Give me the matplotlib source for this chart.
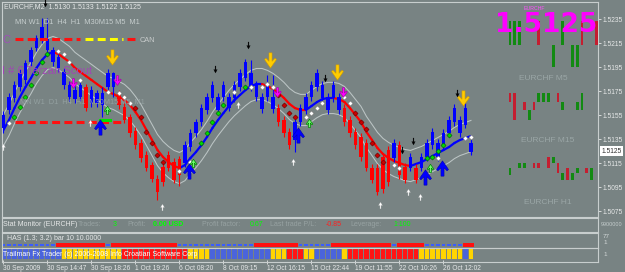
import matplotlib
matplotlib.use('Agg')
import matplotlib.pyplot as plt
from matplotlib.path import Path
from matplotlib.patches import Rectangle
import numpy as np

plt.rcParams['font.family'] = ['Liberation Sans', 'DejaVu Sans']

# ---------------- data ----------------
opens = [1.5144,1.5159,1.5169,1.5178,1.5184,1.5199,1.5211,1.5218,1.5209,1.5199,
         1.5194,1.5180,1.5170,1.5168,1.5170,1.5178,1.5165,1.5165,1.5163,1.5178,
         1.5178,1.5173,1.5162,1.5153,1.5142,1.5132,1.5122,1.5113,1.5102,1.5112,
         1.5122,1.5116,1.5118,1.5115,1.5128,1.5140,1.5149,1.5159,1.5169,1.5159,
         1.5170,1.5161,1.5169,1.5178,1.5186,1.5178,1.5170,1.5160,1.5170,1.5160,
         1.5161,1.5151,1.5141,1.5134,1.5149,1.5159,1.5170,1.5178,1.5169,1.5159,
         1.5169,1.5159,1.5161,1.5151,1.5141,1.5137,1.5132,1.5111,1.5111,1.5120,
         1.5126,1.5119,1.5130,1.5112,1.5111,1.5111,1.5111,1.5120,1.5130,1.5120,
         1.5130,1.5140,1.5149,1.5140,1.5147,1.5124]
closes = [1.5155,1.5170,1.5180,1.5190,1.5198,1.5209,1.5219,1.5228,1.5218,1.5209,
          1.5203,1.5191,1.5180,1.5176,1.5180,1.5161,1.5176,1.5173,1.5173,1.5190,
          1.5190,1.5163,1.5151,1.5140,1.5130,1.5119,1.5111,1.5102,1.5091,1.5099,
          1.5111,1.5101,1.5105,1.5130,1.5140,1.5149,1.5161,1.5170,1.5180,1.5170,
          1.5180,1.5170,1.5180,1.5190,1.5199,1.5190,1.5180,1.5170,1.5180,1.5170,
          1.5149,1.5140,1.5130,1.5149,1.5161,1.5170,1.5180,1.5190,1.5180,1.5170,
          1.5180,1.5170,1.5149,1.5140,1.5130,1.5120,1.5111,1.5101,1.5091,1.5093,
          1.5099,1.5132,1.5105,1.5101,1.5120,1.5101,1.5120,1.5132,1.5141,1.5132,
          1.5140,1.5151,1.5161,1.5151,1.5161,1.5132]
highs = [1.5158,1.5173,1.5183,1.5193,1.5201,1.5212,1.5222,1.5236,1.5236,1.5212,
         1.5206,1.5194,1.5183,1.5179,1.5183,1.5181,1.5179,1.5176,1.5178,1.5193,
         1.5191,1.5176,1.5165,1.5156,1.5145,1.5135,1.5125,1.5116,1.5105,1.5115,
         1.5125,1.5119,1.5121,1.5133,1.5143,1.5152,1.5164,1.5173,1.5183,1.5173,
         1.5183,1.5173,1.5183,1.5193,1.5202,1.5201,1.5183,1.5173,1.5188,1.5188,
         1.5164,1.5154,1.5144,1.5152,1.5164,1.5173,1.5183,1.5193,1.5183,1.5173,
         1.5183,1.5173,1.5164,1.5154,1.5144,1.5140,1.5135,1.5114,1.5114,1.5123,
         1.5129,1.5135,1.5133,1.5115,1.5123,1.5114,1.5123,1.5135,1.5144,1.5135,
         1.5143,1.5154,1.5164,1.5154,1.5168,1.5135]
lows = [1.5140,1.5156,1.5166,1.5175,1.5181,1.5196,1.5208,1.5215,1.5206,1.5196,
        1.5191,1.5177,1.5167,1.5165,1.5167,1.5158,1.5162,1.5162,1.5153,1.5175,
        1.5170,1.5160,1.5148,1.5137,1.5127,1.5116,1.5108,1.5099,1.5084,1.5096,
        1.5108,1.5098,1.5096,1.5112,1.5125,1.5137,1.5146,1.5156,1.5166,1.5156,
        1.5167,1.5158,1.5166,1.5175,1.5183,1.5175,1.5167,1.5157,1.5167,1.5157,
        1.5146,1.5137,1.5127,1.5124,1.5146,1.5156,1.5167,1.5175,1.5166,1.5156,
        1.5166,1.5156,1.5146,1.5137,1.5127,1.5117,1.5108,1.5098,1.5088,1.5090,
        1.5096,1.5116,1.5102,1.5098,1.5108,1.5098,1.5108,1.5117,1.5127,1.5117,
        1.5127,1.5137,1.5146,1.5137,1.5144,1.5122]
ma = [1.51425,1.51508,1.51608,1.51700,1.51783,1.51858,1.51942,1.52008,1.52058,1.52075,
      1.52058,1.52025,1.51992,1.51942,1.51908,1.51875,1.51842,1.51808,1.51775,1.51742,
      1.51725,1.51700,1.51675,1.51633,1.51575,1.51508,1.51425,1.51342,1.51258,1.51200,
      1.51158,1.51125,1.51108,1.51133,1.51192,1.51242,1.51300,1.51367,1.51442,1.51508,
      1.51567,1.51625,1.51675,1.51717,1.51758,1.51792,1.51808,1.51808,1.51792,1.51767,
      1.51733,1.51692,1.51642,1.51608,1.51592,1.51592,1.51625,1.51658,1.51683,1.51692,
      1.51692,1.51683,1.51658,1.51608,1.51550,1.51492,1.51408,1.51342,1.51275,1.51225,
      1.51192,1.51167,1.51150,1.51133,1.51125,1.51142,1.51158,1.51183,1.51208,1.51233,
      1.51258,1.51283,1.51317,1.51342,1.51358,1.51375]
band_width = 0.0013

price_ticks = [1.5235, 1.5215, 1.5195, 1.5175, 1.5155, 1.5135, 1.5115, 1.5095, 1.5075]
last_price = 1.5125

green_dot_idx = [2,3,4,5,6,7,8,36,37,38,39,40,44,77,78,79,80,81]
green_dot_val = [1.5153,1.5162,1.5170,1.5180,1.5190,1.5199,1.5206,1.5132,1.5140,1.5149,
                 1.5157,1.5163,1.5178,1.5119,1.5120,1.5125,1.5130,1.5138]
red_dot_idx = [24,25,26,27,28,29,50,51,52,53,64,65,66,67,68,69]
red_dot_val = [1.5161,1.5153,1.5141,1.5132,1.5122,1.5116,1.5172,1.5163,1.5157,1.5153,
               1.5157,1.5149,1.5143,1.5132,1.5122,1.5116]
white_dot_idx = [1,10,11,12,14,19,21,22,23,32,34,42,45,47,48,49,55,56,57,58,62,63,71,72,79,84,85]
white_dot_val = [1.5148,1.5208,1.5206,1.5199,1.5184,1.5174,1.5173,1.5170,1.5165,1.5108,
                 1.5116,1.5174,1.5178,1.5178,1.5181,1.5178,1.5153,1.5157,1.5161,1.5165,
                 1.5170,1.5165,1.5113,1.5111,1.5119,1.5136,1.5137]

yellow_arrow_idx = [19.7, 48.5, 60.6, 83.5]
yellow_arrow_val = [1.5203, 1.5201, 1.5191, 1.5169]
blue_arrow_idx = [17.6, 33.7, 53.6, 76.6, 79.7]
blue_arrow_val = [1.5145, 1.5108, 1.5138, 1.5103, 1.5111]
pink_arrow_idx = [12.6, 20.6, 49.7, 61.7]
pink_arrow_val = [1.5182, 1.5184, 1.5174, 1.5174]
black_arrow_idx = [7.5, 38.5, 44.5, 58.5, 72.5, 74.5, 82.5]
black_arrow_val = [1.5248, 1.5193, 1.5213, 1.5186, 1.5126, 1.5133, 1.5173]
white_arrow_idx = [0.0, 15.7, 28.8, 42.6, 52.6, 68.5, 73.5, 75.7]
white_arrow_val = [1.5128, 1.5148, 1.5078, 1.5163, 1.5116, 1.5080, 1.5091, 1.5087]
green_arrow_idx = [18.8, 34.5, 55.5, 77.6]
green_arrow_val = [1.5159, 1.5115, 1.5148, 1.5111]

can_level = 1.5218
can_red_a = [2.1, 13.9]
can_yellow = [14.8, 21.7]
can_red_b = [22.5, 23.9]
low_level = 1.5149
low_red = [2.1, 22.1]
low_green = [17.6, 19.4]

mini_m5_idx = [0, 1, 2, 6, 9, 11, 13, 14, 15, 18]
mini_m5_lo = [1.5213,1.5213,1.5213,1.5213,1.5195,1.5213,1.5195,1.5195,1.5213,1.5213]
mini_m5_hi = [1.5233,1.5233,1.5233,1.5233,1.5213,1.5233,1.5213,1.5213,1.5233,1.5233]
mini_m5_up = [1, 1, 1, 0, 1, 1, 1, 1, 0, 0]
mini_m15_idx = [0, 1, 3, 4, 5, 6, 7, 8, 10, 11, 14, 15]
mini_m15_lo = [1.5166,1.5151,1.5159,1.5151,1.5159,1.5166,1.5166,1.5166,1.5166,1.5159,1.5159,1.5159]
mini_m15_hi = [1.5173,1.5173,1.5166,1.5159,1.5166,1.5173,1.5173,1.5173,1.5173,1.5166,1.5166,1.5173]
mini_m15_up = [0, 0, 0, 1, 0, 1, 1, 1, 0, 1, 1, 1]
mini_h1_idx = [0, 2, 3, 5, 6, 8, 9, 10, 11, 12, 13, 14, 16, 17]
mini_h1_lo = [1.5105,1.5111,1.5111,1.5111,1.5111,1.5111,1.5115,1.5107,1.5101,1.5101,1.5101,1.5107,1.5107,1.5101]
mini_h1_hi = [1.5111,1.5115,1.5115,1.5115,1.5115,1.5120,1.5120,1.5115,1.5107,1.5111,1.5107,1.5111,1.5111,1.5111]
mini_h1_up = [1, 1, 1, 0, 0, 0, 1, 0, 1, 0, 1, 1, 0, 1]

has_state = [0,0,0,0,0,0,0,0,0,0,
             1,1,1,1,1,1,1,1,1,0,
             1,1,1,1,1,1,1,1,1,1,
             1,1,0,0,0,0,0,0,0,0,
             0,0,0,0,0,0,1,1,1,1,
             1,1,1,1,0,0,0,0,0,0,
             1,1,1,1,1,1,1,1,1,1,
             1,0,1,1,1,1,1,0,0,0,
             0,0,0,0,1,1]
trail_state = [0,0,0,0,0,0,0,0,0,0,
               0,1,1,1,1,1,1,1,1,1,
               1,1,2,2,2,2,2,2,2,2,
               2,2,2,2,1,1,1,1,0,0,
               0,0,0,0,0,0,0,0,0,1,
               1,1,2,2,2,1,1,0,0,0,
               0,0,1,2,2,2,2,2,2,2,
               2,2,2,2,2,2,1,1,1,1,
               1,1,1,1,0,1]

time_idx = [0, 8, 16, 24, 32, 40, 48, 56, 64, 72, 80]
time_labels = ['30 Sep 2009', '30 Sep 14:47', '30 Sep 18:26', '1 Oct 19:26', '6 Oct 08:20',
               '8 Oct 09:15', '12 Oct 16:15', '15 Oct 22:44', '19 Oct 11:55', '22 Oct 10:26',
               '26 Oct 12:02']

# ---------------- drawing ----------------
W, H = 625, 272
BG = '#788383'
FG = '#e6e8e8'
FADE = '#97a2a2'
SP = '#c8cece'

fig = plt.figure(figsize=(W / 100, H / 100), dpi=100)
fig.patch.set_facecolor(BG)


def add_ax(x0, y0, x1, y1):
    a = fig.add_axes([x0 / W, 1 - y1 / H, (x1 - x0) / W, (y1 - y0) / H])
    a.set_facecolor('none')
    for s in a.spines.values():
        s.set_color(SP)
        s.set_linewidth(0.8)
    return a


def ftext(px, py, s, **kw):
    kw.setdefault('va', 'center')
    kw.setdefault('ha', 'left')
    kw.setdefault('fontsize', 5)
    return fig.text(px / W, 1 - py / H, s, **kw)


def mk(verts):
    return Path(verts + [verts[0]],
                [Path.MOVETO] + [Path.LINETO] * (len(verts) - 1) + [Path.CLOSEPOLY])


big_down_v = [(-0.2, 1), (0.2, 1), (0.2, -0.1), (0.6, 0.3), (0.78, 0.12), (0, -1),
              (-0.78, 0.12), (-0.6, 0.3), (-0.2, -0.1)]
BIG_DOWN = mk(big_down_v)
BIG_UP = mk([(x, -y) for x, y in big_down_v])
THIN_DOWN = mk([(-0.12, 1), (0.12, 1), (0.12, -0.05), (0.5, -0.05), (0, -1), (-0.5, -0.05), (-0.12, -0.05)])
SMALL_UP = mk([(-0.15, -1), (0.15, -1), (0.15, 0.05), (0.6, 0.05), (0, 1), (-0.6, 0.05), (-0.15, 0.05)])

X0 = -0.27
X1 = X0 + 596 / 5.5
YLO, YHI = 1.5070, 1.52492

ax = add_ax(2, 2, 598, 217)
ax.set_xlim(X0, X1)
ax.set_ylim(YLO, YHI)
ax.set_xticks([])
ax.yaxis.tick_right()
ax.set_yticks(price_ticks)
ax.set_yticklabels([f'{v:.4f}' for v in price_ticks])
ax.tick_params(axis='y', colors=FG, labelsize=4.8, length=2, width=0.6, pad=1.5)

idx = np.arange(len(ma))
ma_arr = np.array(ma)
ax.plot(idx, ma_arr + band_width, color='#bcc5c5', lw=0.75, zorder=2)
ax.plot(idx, ma_arr - band_width, color='#bcc5c5', lw=0.75, zorder=2)

up = True
for i in range(len(ma) - 1):
    if ma[i + 1] > ma[i]:
        up = True
    elif ma[i + 1] < ma[i]:
        up = False
    ax.plot([i, i + 1], [ma[i], ma[i + 1]], color='#0000ff' if up else '#ff0000',
            lw=1.6, zorder=2.5, solid_capstyle='round')

for i, (o, h, l, c) in enumerate(zip(opens, highs, lows, closes)):
    col = '#0000ff' if c >= o else '#ff0000'
    ax.vlines(i, l, h, color=col, lw=0.8, zorder=3)
    ax.add_patch(Rectangle((i - 0.36, min(o, c)), 0.72, abs(c - o), fc=col, ec='none', zorder=3))

ax.plot(green_dot_idx, green_dot_val, 'D', ls='none', ms=2.6, mfc='#00d800', mec='#005a00', mew=0.4, zorder=5)
ax.plot(red_dot_idx, red_dot_val, 'D', ls='none', ms=2.6, mfc='#c80000', mec='#600000', mew=0.4, zorder=5)
ax.plot(white_dot_idx, white_dot_val, 'D', ls='none', ms=2.6, mfc='#ffffff', mec='#707070', mew=0.4, zorder=5)

ax.plot(yellow_arrow_idx, yellow_arrow_val, ls='none', marker=BIG_DOWN, ms=11,
        mfc='#ffcc00', mec='#d09a00', mew=0.4, zorder=6)
ax.plot(blue_arrow_idx, blue_arrow_val, ls='none', marker=BIG_UP, ms=11,
        mfc='#0000ff', mec='#0000b0', mew=0.4, zorder=6)
ax.plot(pink_arrow_idx, pink_arrow_val, ls='none', marker=BIG_DOWN, ms=7,
        mfc='#ff00ff', mec='#a000a0', mew=0.4, zorder=6)
ax.plot(black_arrow_idx, black_arrow_val, ls='none', marker=THIN_DOWN, ms=5,
        mfc='#000000', mec='#000000', mew=0.2, zorder=6, clip_on=False)
ax.plot(white_arrow_idx, white_arrow_val, ls='none', marker=SMALL_UP, ms=4.5,
        mfc='#ffffff', mec='#d0d0d0', mew=0.2, zorder=6)
ax.plot(green_arrow_idx, green_arrow_val, ls='none', marker=BIG_UP, ms=6,
        mfc='#70ff70', mec='#008800', mew=0.5, zorder=6)

dash = dict(lw=2.2, dashes=(2.6, 1.4), zorder=4, solid_capstyle='butt')
ax.plot(can_red_a, [can_level] * 2, color='#ff1010', **dash)
ax.plot(can_yellow, [can_level] * 2, color='#ffff00', **dash)
ax.plot(can_red_b, [can_level] * 2, color='#ff1010', **dash)
ax.plot(low_red, [low_level] * 2, color='#ff1010', **dash)
ax.plot(low_green, [low_level + 0.0002] * 2, color='#00e000', lw=2.2, zorder=4)

# current price label
ax.annotate(f'{last_price:.4f}', xy=(1, last_price), xycoords=('axes fraction', 'data'),
            xytext=(2.5, 0), textcoords='offset points', va='center', ha='left',
            fontsize=4.8, color='#303030',
            bbox=dict(boxstyle='square,pad=0.25', fc='#ffffff', ec='none'))

# mini multi-timeframe bars on the right
mini = fig.add_axes([505 / W, 1 - 217 / H, 95 / W, 215 / H])
mini.set_facecolor('none')
mini.axis('off')
mini.set_xlim(-1.04, 18.75)
mini.set_ylim(YLO, YHI)
for gi, glo, ghi, gup in [(mini_m5_idx, mini_m5_lo, mini_m5_hi, mini_m5_up),
                          (mini_m15_idx, mini_m15_lo, mini_m15_hi, mini_m15_up),
                          (mini_h1_idx, mini_h1_lo, mini_h1_hi, mini_h1_up)]:
    mini.bar(gi, np.array(ghi) - np.array(glo), bottom=glo, width=0.62,
             color=['#128a12' if u else '#c41e30' for u in gup])

# texts in main chart
ftext(4, 7, 'EURCHF,M2  1.5130 1.5133 1.5122 1.5125', color=FG, fontsize=5)
ftext(15, 23, 'MN W1  D1  H4  H1  M30M15 M5  M1', color='#c4cccc', fontsize=5.3)
ftext(20, 103, 'MN W1  D1  H4  H1  M30M15 M5  M1', color='#93a0a0', fontsize=5.3)
ftext(2, 40, 'C', color='#a050b8', fontsize=8)
ftext(140, 40, 'CAN', color='#c8cccc', fontsize=5.3)
ftext(2, 71, 'I # 6 Tarzan Scout', color='#a046b4', fontsize=8)
ftext(546, 25, '1.5125', ha='center', color='#ff00ff', fontsize=19, fontweight='bold',
      family='DejaVu Sans')
ftext(524, 8, 'EURCHF', color='#ff50ff', fontsize=3.8)
ftext(543, 78, 'EURCHF M5', ha='center', color='#9aa6a6', fontsize=6)
ftext(548, 140, 'EURCHF M15', ha='center', color='#9aa6a6', fontsize=6)
ftext(548, 202, 'EURCHF H1', ha='center', color='#9aa6a6', fontsize=6)

# stat monitor panel
stat = add_ax(2, 218, 598, 232)
stat.set_xticks([])
stat.set_yticks([])
SY = 225
ftext(3, SY, 'Stat Monitor (EURCHF)', color=FG)
ftext(78, SY, 'Trades:', color=FADE)
ftext(113, SY, '3', color='#00ff00')
ftext(127, SY, 'Profit:', color=FADE)
ftext(153, SY, '0.00 USD', color='#00ff00', fontweight='bold')
ftext(202, SY, 'Profit factor:', color=FADE)
ftext(250, SY, '0.67', color='#00ff00')
ftext(270, SY, 'Last trade P/L:', color=FADE)
ftext(326, SY, '-0.85', color='#ff2020')
ftext(350, SY, 'Leverage:', color=FADE)
ftext(393, SY, '1:100', color='#00ff00')
ftext(601, SY, '9900000', color='#c4cccc', fontsize=4.0)

# HAS panel
has = add_ax(2, 233, 598, 248)
has.set_xlim(X0, X1)
has.set_ylim(0, 1)
has.set_xticks([])
has.set_yticks([])
has_idx = np.arange(len(has_state))
has.bar(has_idx, [0.26 if s else 0.16 for s in has_state],
        bottom=[0.08 if s else 0.13 for s in has_state],
        width=[1.0 if s else 0.6 for s in has_state],
        color=['#ff1010' if s else '#3a5cff' for s in has_state])
ftext(7, 238, 'HAS (1.3; 3.2) bar 10 10.0000', color=FG)
ftext(603, 237, '77', color='#d0d6d6', fontsize=4.6)
ftext(603, 242, '1', color='#d0d6d6', fontsize=4.6)

# trailman panel
trail = add_ax(2, 248, 598, 262)
trail.set_xlim(X0, X1)
trail.set_ylim(0, 1)
trail.set_yticks([])
tcols = {0: '#4a64dc', 1: '#ffd400', 2: '#ff1414'}
trail.bar(np.arange(len(trail_state)), 0.75, bottom=0.18, width=0.82,
          color=[tcols[s] for s in trail_state])
ftext(3, 254, 'Trailman Fx Trader (c) 2006-2008 Info Croatian Software Corp', color='#ffffff')
ftext(603, 255, '1', color='#d0d6d6', fontsize=4.6)
trail.set_xticks(time_idx)
trail.set_xticklabels(time_labels)
trail.tick_params(axis='x', direction='inout', length=3, width=0.6, colors=FG,
                  labelsize=4.8, pad=0.5)
for lbl in trail.get_xticklabels():
    lbl.set_ha('left')

fig.savefig('out.png', dpi=100, facecolor=BG)
